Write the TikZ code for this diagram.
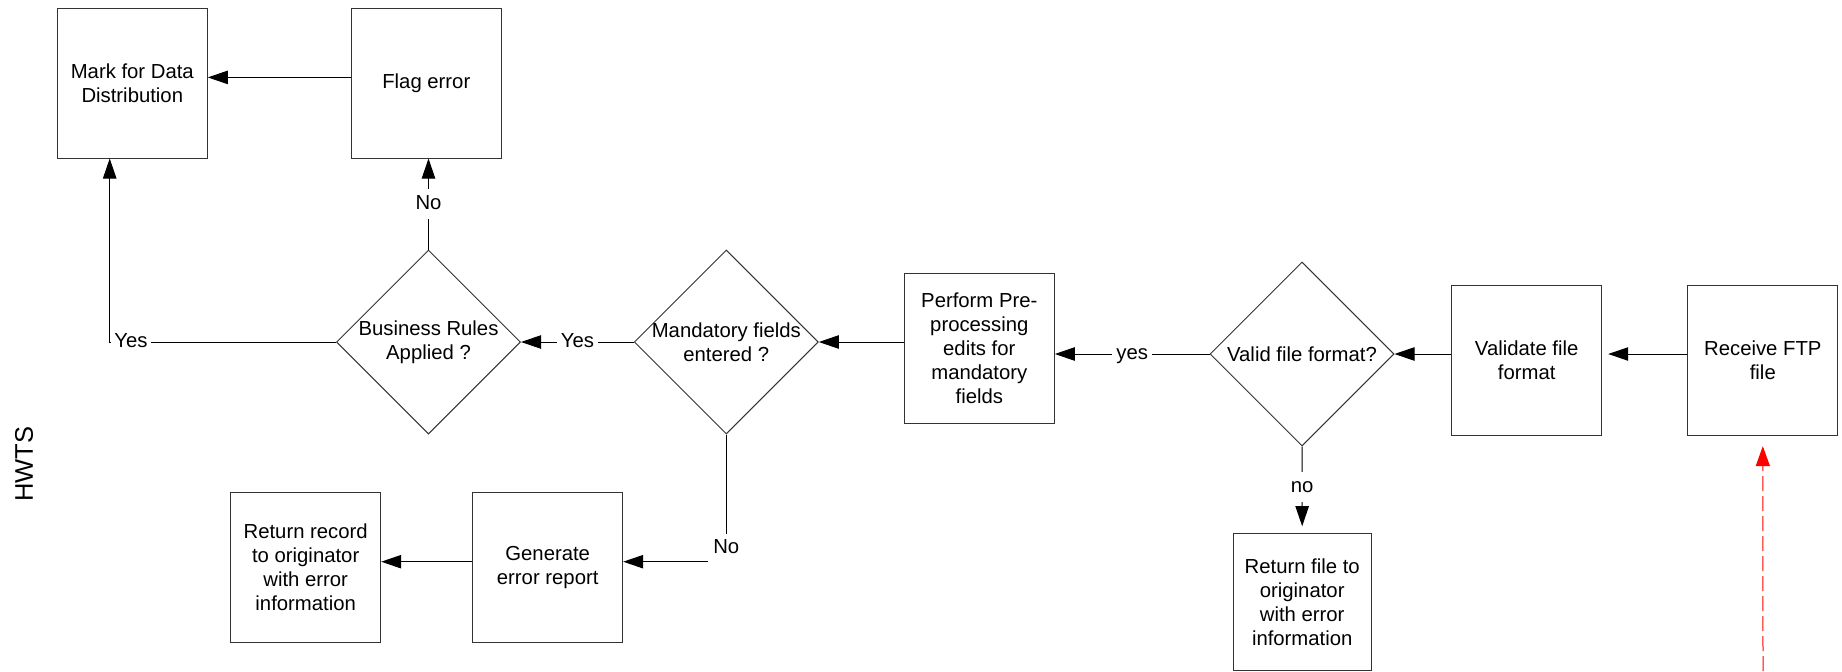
\documentclass[tikz,border=0pt]{standalone}
\usepackage{fontspec}
\setmainfont{Liberation Sans}
\usetikzlibrary{arrows.meta,shapes.geometric}

\begin{document}
\begin{tikzpicture}[x=0.5pt, y=-0.5pt, font=\fontsize{10.15}{12}\selectfont]
            \tikzset{Box/.style={draw=black!80,line width=0.5pt,minimum width=75pt,minimum height=75pt,inner sep=0pt,align=center}}
            \tikzset{Decision/.style={diamond,aspect=1,draw=black!80,line width=0.5pt,minimum width=92pt,minimum height=92pt,inner sep=0pt}}
            \tikzset{Flow/.style={-{Triangle[length=10pt,width=6.7pt]},line width=0.5pt}}
            \tikzset{Feed/.style={draw=red,line width=0.5pt,dash pattern=on 7.5pt off 2.5pt,-{Triangle[length=10pt,width=7pt]}}}
            \tikzset{Tag/.style={fill=white,inner xsep=2pt,inner ysep=3.2pt,text height=7pt,text depth=2pt}}
            \useasboundingbox (0,0) rectangle (1842,671);
            \node[rotate=90,font=\fontsize{12.75}{15}\selectfont] (hwts) at (24,464) {HWTS} ;
            \node[Box] (mark) at (132.3,83) {Mark for Data\\Distribution} ;
            \node[Box] (flag) at (426.3,83) {Flag error} ;
            \node[Decision,label={[align=center]center:Business Rules\\Applied ?}] (br) at (428.5,342) {} ;
            \node[Decision,label={[align=center]center:Mandatory fields\\entered ?}] (mand) at (726.3,342) {} ;
            \node[Box] (perform) at (979.3,348.5) {Perform Pre-\\processing\\edits for\\mandatory\\fields} ;
            \node[Decision,label={center:Valid file format?}] (valid) at (1302,354) {} ;
            \node[Box] (validate) at (1526.7,360) {Validate file\\format} ;
            \node[Box] (receive) at (1762.8,360) {Receive FTP\\file} ;
            \node[Box,minimum width=69.2pt,minimum height=68.6pt] (retfile) at (1302.2,601.9) {Return file to\\originator\\with error\\information} ;
            \node[Box] (gen) at (547.7,567.2) {Generate\\error report} ;
            \node[Box] (retrec) at (305.7,567.2) {Return record\\to originator\\with error\\information} ;
            \coordinate (ftpin) at (1763,671) ;
            \draw[Flow] ([yshift=2.8pt]flag.west) -- ([yshift=2.8pt]mark.east) ;
            \draw[Flow] (br.north) -- node[Tag] {No} (br.north |- flag.south) ;
            \draw[Flow] (br.west) -| node[Tag,pos=0.5,anchor=west,xshift=0.6pt,inner xsep=1.5pt] {Yes} ([xshift=-11.3pt]mark.south) ;
            \draw[Flow] (mand.west) -- node[Tag] {Yes} (br.east) ;
            \draw[Flow] (mand.east -| perform.west) -- (mand.east) ;
            \draw[Flow] (valid.west) -- node[Tag] {yes} (valid.west -| perform.east) ;
            \draw[Flow] (valid.east -| validate.west) -- (valid.east) ;
            \draw[Flow,shorten >=3pt] (valid.east -| receive.west) -- (valid.east -| validate.east) ;
            \draw[Flow,shorten >=3.3pt] (valid.south) -- node[Tag,pos=0.47] {no} (retfile.north) ;
            \draw[Flow] (mand.south) |- node[Tag,pos=0.5,anchor=south,yshift=-1.2pt,minimum width=18pt,minimum height=15pt,inner sep=0pt] {No} ([yshift=2.75pt]gen.east) ;
            \draw[Flow] ([yshift=2.75pt]gen.west) -- ([yshift=2.75pt]retrec.east) ;
            \draw[Feed,shorten >=5.3pt] (ftpin) -- (receive.south) ;
        \end{tikzpicture}
\end{document}
